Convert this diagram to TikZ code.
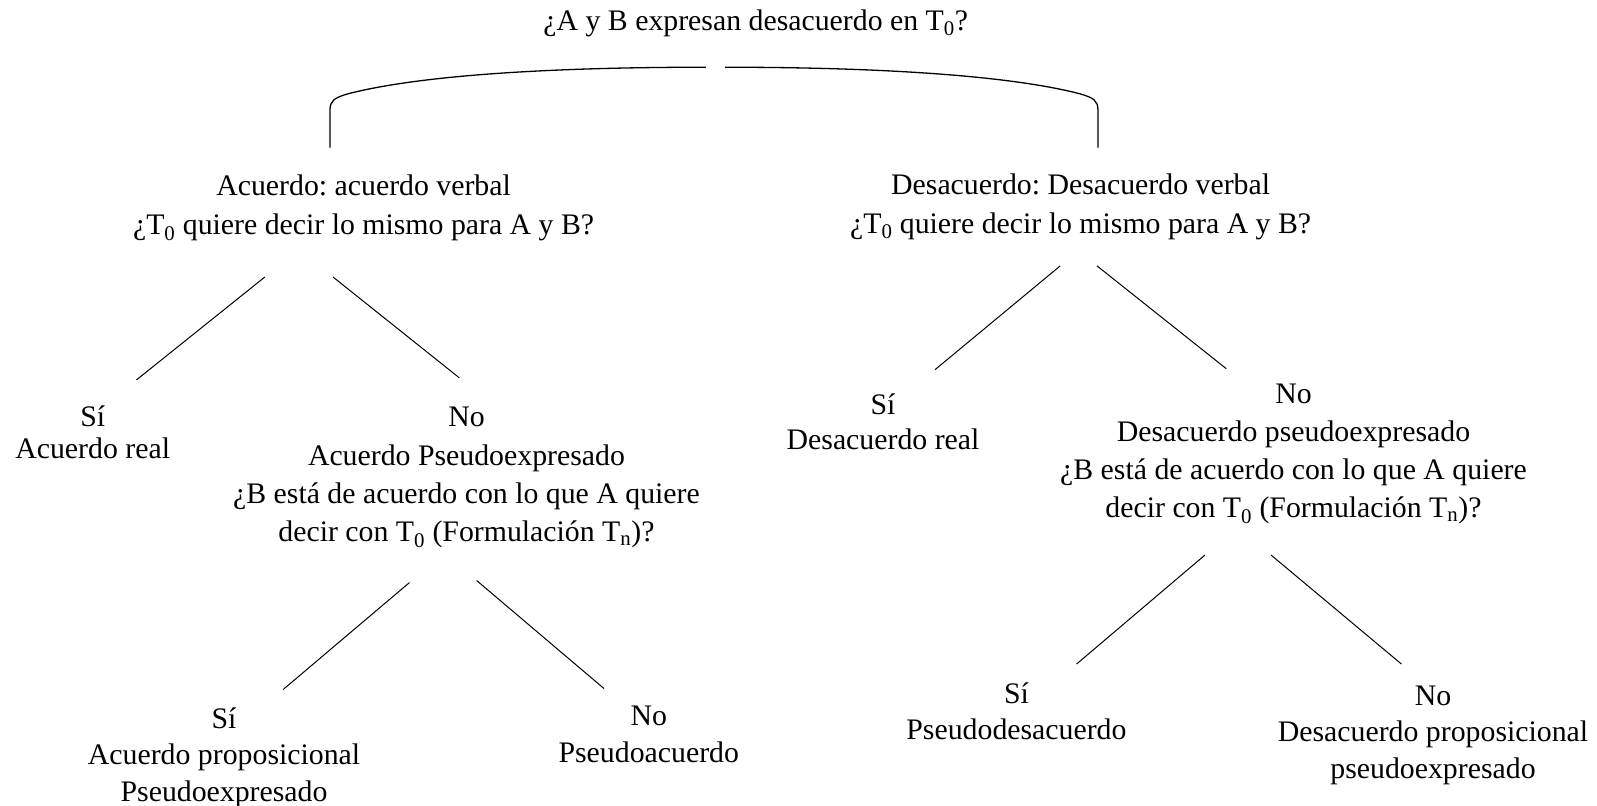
\documentclass[tikz,border=0pt]{standalone}
\usepackage{fontspec}
\setmainfont{Liberation Serif}
\frenchspacing
\tikzset{
  lbl/.style={font=\fontsize{29.8}{37}\selectfont, align=center, inner sep=0pt},
  conn/.style={line width=1pt, black},
  bracket/.style={line width=1.3pt, black}
}
\newcommand{\Tz}{T\textsubscript{0}}
\newcommand{\Tn}{T\textsubscript{n}}
\begin{document}
\begin{tikzpicture}[x=1.0185pt, y=-1.0185pt]
\fill[white] (0,0) rectangle (1568,791);
\useasboundingbox (0,0) rectangle (1568,791);

% title
\node[lbl] (title) at (742,23) {¿A y B expresan desacuerdo en \Tz?};

% bracket
\coordinate (bl) at (324,145);
\coordinate (bml) at (693,66);
\coordinate (br) at (1078,145);
\coordinate (bmr) at (712,66);
\draw[bracket] (bl) -- (324,108) .. controls (324,99) and (328,96) .. (342,92) .. controls (420,72) and (560,66) .. (bml);
\draw[bracket] (br) -- (1078,108) .. controls (1078,99) and (1074,96) .. (1060,92) .. controls (982,72) and (842,66) .. (bmr);

% left subtree
\node[lbl, font=\fontsize{29.8}{39.7}\selectfont] (A1) at (357,204) {Acuerdo: acuerdo verbal\\¿\Tz{} quiere decir lo mismo para A y B?};
\node[lbl, font=\fontsize{29.8}{32}\selectfont] (A2) at (91,424) {Sí\\Acuerdo real};
\node[lbl, font=\fontsize{29.8}{38.4}\selectfont] (A3) at (458,469) {No\\Acuerdo Pseudoexpresado\\¿B está de acuerdo con lo que A quiere\\decir con \Tz{} (Formulación \Tn)?};
\node[lbl, font=\fontsize{29.8}{36.5}\selectfont] (A4) at (220,744) {Sí\\Acuerdo proposicional\\Pseudoexpresado};
\node[lbl] (A5) at (637,721) {No\\Pseudoacuerdo};

\coordinate (a1l) at (260,272); \coordinate (a2t) at (134,373);
\coordinate (a1r) at (327,272); \coordinate (a3t) at (451,371);
\coordinate (a3l) at (402,572); \coordinate (a4t) at (278,677);
\coordinate (a3r) at (468,570); \coordinate (a5t) at (593,676);
\draw[conn] (a1l) -- (a2t);
\draw[conn] (a1r) -- (a3t);
\draw[conn] (a3l) -- (a4t);
\draw[conn] (a3r) -- (a5t);

% right subtree
\node[lbl, font=\fontsize{29.8}{39}\selectfont] (D1) at (1061,203) {Desacuerdo: Desacuerdo verbal\\¿\Tz{} quiere decir lo mismo para A y B?};
\node[lbl, font=\fontsize{29.8}{35}\selectfont] (D2) at (867,414) {Sí\\Desacuerdo real};
\node[lbl, font=\fontsize{29.8}{38}\selectfont] (D3) at (1270,446) {No\\Desacuerdo pseudoexpresado\\¿B está de acuerdo con lo que A quiere\\decir con \Tz{} (Formulación \Tn)?};
\node[lbl, font=\fontsize{29.8}{36}\selectfont] (D4) at (998,698) {Sí\\Pseudodesacuerdo};
\node[lbl, font=\fontsize{29.8}{36.7}\selectfont] (D5) at (1407,722) {No\\Desacuerdo proposicional\\pseudoexpresado};

\coordinate (d1l) at (1041,261); \coordinate (d2t) at (918,363);
\coordinate (d1r) at (1077,261); \coordinate (d3t) at (1204,362);
\coordinate (d3l) at (1183,545); \coordinate (d4t) at (1057,652);
\coordinate (d3r) at (1248,545); \coordinate (d5t) at (1376,652);
\draw[conn] (d1l) -- (d2t);
\draw[conn] (d1r) -- (d3t);
\draw[conn] (d3l) -- (d4t);
\draw[conn] (d3r) -- (d5t);
\end{tikzpicture}
\end{document}
